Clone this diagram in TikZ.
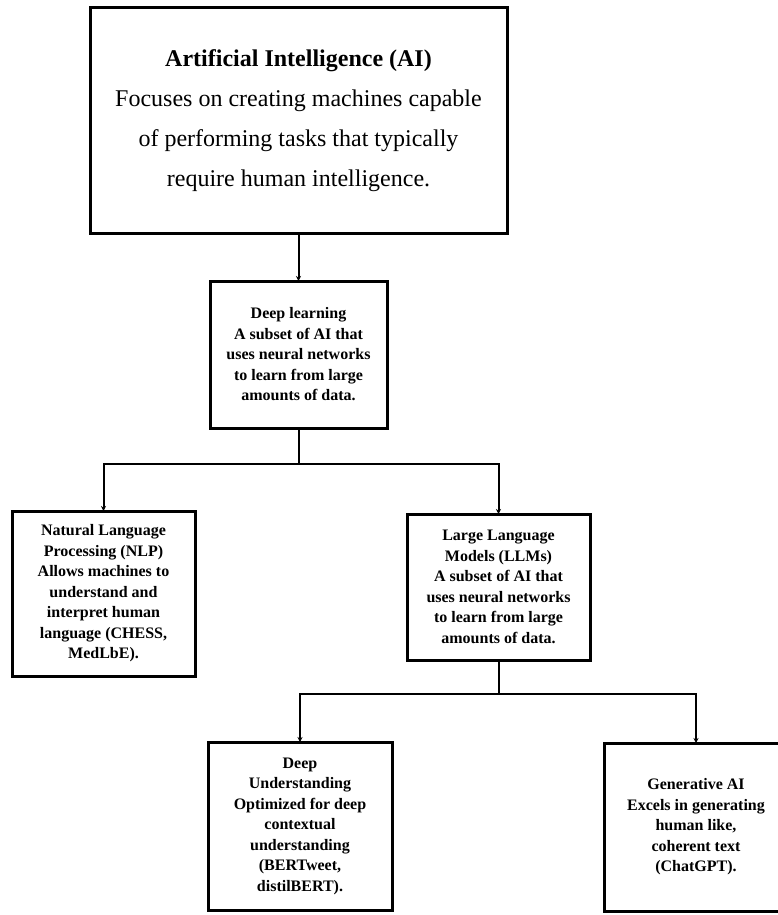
\documentclass[tikz,border=0pt]{standalone}
\usepackage{fontspec}
\setmainfont{Liberation Serif}
\usetikzlibrary{positioning,arrows.meta}

\tikzstyle{topbox} = [rectangle, minimum width=417pt, minimum height=225pt, outer sep=0pt, text centered, draw=black, line width=3pt, align=center, font=\fontsize{24}{40}\selectfont]
\tikzstyle{subbox} = [rectangle, minimum width=177pt, minimum height=147pt, inner sep=0pt, outer sep=0pt, text centered, draw=black, line width=3pt, align=center, font=\fontsize{16}{20.5}\selectfont\bfseries]
\tikzstyle{leafbox} = [subbox, minimum width=184pt, minimum height=168pt]
\tikzstyle{link} = [line width=2pt]
\tikzstyle{arrow} = [link,-{Stealth[length=5pt,width=5pt]}]

\begin{document}
\begin{tikzpicture}

\useasboundingbox (0,0) rectangle (778pt,-915pt);

% Define nodes
\node (ai) [topbox] at (298.5pt,-120.5pt) {\textbf{Artificial Intelligence (AI)}\\Focuses on creating machines capable\\of performing tasks that typically\\require human intelligence.};
\node (dl) [subbox, below=48pt of ai] {Deep learning\\A subset of AI that\\uses neural networks\\to learn from large\\amounts of data.};
\node (nlp) [subbox, minimum width=183pt, minimum height=165pt, below=83pt of dl, xshift=-195pt] {Natural Language\\Processing (NLP)\\Allows machines to\\understand and\\interpret human\\language (CHESS,\\MedLbE).};
\node (llm) [subbox, minimum width=183pt, minimum height=146pt, below=86pt of dl, xshift=200pt] {Large Language\\Models (LLMs)\\A subset of AI that\\uses neural networks\\to learn from large\\amounts of data.};
\node (du) [leafbox, below=82pt of llm, xshift=-198.5pt] {Deep\\Understanding\\Optimized for deep\\contextual\\understanding\\(BERTweet,\\distilBERT).};
\node (gen) [leafbox, below=83pt of llm, xshift=197.5pt] {Generative AI\\Excels in generating\\human like,\\coherent text\\(ChatGPT).};

% Draw arrows
\draw [arrow] (ai) -- (dl);
\draw [arrow] (dl.south) -- ++(0,-36pt) -| (nlp.north);
\draw [arrow] (dl.south) -- ++(0,-36pt) -| (llm.north);
\draw [arrow] (llm.south) -- ++(0,-34pt) -| (du.north);
\draw [arrow] (llm.south) -- ++(0,-34pt) -| (gen.north);

\end{tikzpicture}
\end{document}
